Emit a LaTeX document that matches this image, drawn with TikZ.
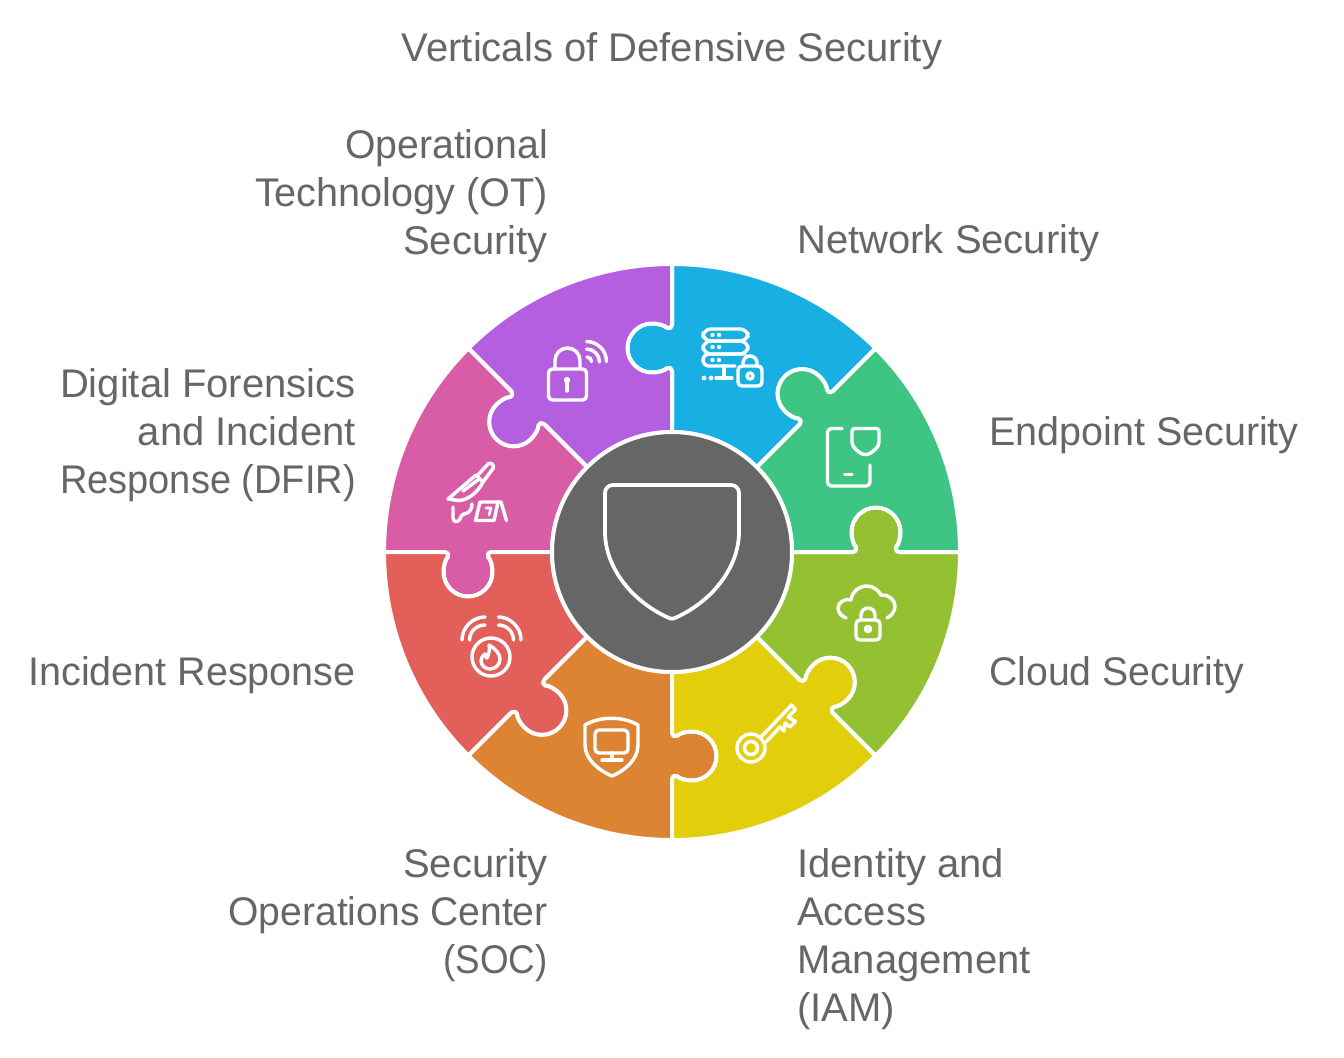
\documentclass[tikz,border=0pt]{standalone}
\usepackage{graphicx}
\usepackage{fontspec}
\setmainfont{Liberation Sans}
\definecolor{txtgray}{HTML}{666666}
\definecolor{hubgray}{HTML}{666666}
\definecolor{netblue}{HTML}{18B0E3}
\definecolor{endgreen}{HTML}{3EC584}
\definecolor{cloudlime}{HTML}{94C132}
\definecolor{iamyellow}{HTML}{E2CE0A}
\definecolor{socorange}{HTML}{DD8432}
\definecolor{irred}{HTML}{E35F5A}
\definecolor{dfirpink}{HTML}{D95DA6}
\definecolor{otpurple}{HTML}{B45FDF}
\tikzset{
  piece/.style={draw=white,line width=3pt,line join=round},
  iconline/.style={draw=white,line width=2.6pt,line cap=round,line join=round},
  lbl/.style={text=txtgray,font=\fontsize{30}{36}\selectfont,inner sep=0pt},
}
\newcommand{\squeeze}[2]{\scalebox{#1}[1]{#2}}
% one sector: notch on its first edge, tab on its second edge
\newcommand{\puzzlepiece}[2]{%
  \draw[piece,fill=#2,rotate=#1] (120,0) -- (181,0)
    .. controls (183.5,0) and (185,3) .. (184,4.5)
    .. controls (181,8) and (179.5,14) .. (179.5,20)
    arc[start angle=180,end angle=0,radius=24.5]
    .. controls (228.5,14) and (227,8) .. (224,4.5)
    .. controls (223,3) and (224.5,0) .. (227,0)
    -- (288,0) arc[start angle=0,end angle=45,radius=288]
    {[rotate=45] -- (227,0)
    .. controls (224.5,0) and (223,3) .. (224,4.5)
    .. controls (227,8) and (228.5,14) .. (228.5,20)
    arc[start angle=0,end angle=180,radius=24.5]
    .. controls (179.5,14) and (181,8) .. (184,4.5)
    .. controls (185,3) and (183.5,0) .. (181,0)
    -- (120,0)} arc[start angle=45,end angle=0,radius=120] -- cycle;
}
\begin{document}
\begin{tikzpicture}[x=0.75pt,y=-0.75pt]
  \useasboundingbox (0,0) rectangle (1344,1057);

  % Ring of pieces
  \begin{scope}[shift={(672,552)},y=0.75pt]
    \puzzlepiece{45}{netblue}
    \puzzlepiece{90}{otpurple}
    \puzzlepiece{135}{dfirpink}
    \puzzlepiece{180}{irred}
    \puzzlepiece{225}{socorange}
    \puzzlepiece{270}{iamyellow}
    \puzzlepiece{315}{cloudlime}
    \puzzlepiece{0}{endgreen}
  \end{scope}

  % Hub and its shield
  \draw[piece,fill=hubgray] (672,552) circle[radius=120];
  \draw[iconline,line width=2.8pt] (613,485) -- (731,485) .. controls (736,485) and (739,489) .. (739,493)
    -- (739,532) .. controls (739,565) and (715,600) .. (675,618)
    .. controls (673,619) and (671,619) .. (669,618)
    .. controls (629,600) and (605,565) .. (605,532) -- (605,493)
    .. controls (605,489) and (608,485) .. (613,485) -- cycle;

  % Network icon
  \draw[iconline,rounded corners=6] (703,329) rectangle (748,341);
  \draw[iconline,rounded corners=6] (703,341) rectangle (748,354);
  \draw[iconline] (745,354) -- (709,354) arc[start angle=270,end angle=90,radius=6] -- (735,366);
  \foreach \y in {335,347,360} {
    \fill[white] (712.5,\y) circle[radius=2.2];
    \fill[white] (719,\y) circle[radius=2.2];
  }
  \draw[iconline] (724,366) -- (724,378);
  \draw[iconline] (716,378) -- (732,378);
  \fill[white] (704,378) circle[radius=2.4];
  \fill[white] (711,378) circle[radius=2.4];
  \draw[iconline,rounded corners=3] (738,366) rectangle (762,386);
  \draw[iconline] (743,366) -- (743,363) arc[start angle=180,end angle=360,radius=7] -- (757,366);
  \draw[iconline] (750,376) circle[radius=3];

  % Endpoint icon
  \draw[iconline,rounded corners=3] (842,428.5) -- (827.5,428.5) -- (827.5,486) -- (870,486) -- (870,465);
  \draw[iconline] (844.5,474.5) -- (852,474.5);
  \draw[iconline,rounded corners=2] (852,428.5) -- (879,428.5) -- (879,440)
    .. controls (879,447) and (872,453) .. (865.5,455)
    .. controls (859,453) and (852,447) .. (852,440) -- cycle;

  % Cloud icon
  \draw[iconline] (846,618) .. controls (841,616) and (838,612) .. (838,608)
    .. controls (838,603) and (844,598) .. (851,600)
    .. controls (852,591) and (860,586) .. (867,586)
    .. controls (873,586) and (878,590) .. (881,595)
    .. controls (888,594) and (895,600) .. (895,606)
    .. controls (895,612) and (891,616) .. (887,618);
  \draw[iconline,rounded corners=3] (856,620) rectangle (880,640);
  \draw[iconline] (861,620) -- (861,615) arc[start angle=180,end angle=360,radius=7] -- (875,620);
  \draw[iconline] (868,629) circle[radius=2.5];

  % Key icon
  \draw[iconline] (751,748) circle[radius=14];
  \draw[iconline] (751,748) circle[radius=6.5];
  \draw[iconline] (761,737) -- (791.5,705) -- (795.5,709.5) -- (788,717) -- (795.5,721.5)
    -- (790,727) -- (785,723) -- (784,731) -- (780,727) -- (766,742);

  % Monitor shield icon
  \draw[iconline] (585,725) .. controls (600,716) and (623,716) .. (638,725) -- (638,745)
    .. controls (638,760) and (624,771) .. (612,776)
    .. controls (600,771) and (585,760) .. (585,745) -- cycle;
  \draw[iconline,rounded corners=3] (595,730) rectangle (628,753);
  \draw[iconline] (612,753) -- (612,760);
  \draw[iconline] (602,760) -- (622,760);

  % Alarm icon
  \draw[iconline] (491,657) circle[radius=19];
  \draw[iconline] (489,645) .. controls (496,649) and (500,654) .. (500,659)
    .. controls (500,665) and (495,669) .. (490,669)
    .. controls (485,669) and (481,665) .. (481,661)
    .. controls (481,658) and (483,655) .. (485,654)
    .. controls (485,656) and (486,657) .. (487,658)
    .. controls (489,654) and (490,649) .. (489,645);
  \draw[iconline] (462,640) .. controls (462,627) and (473,617) .. (485,617);
  \draw[iconline] (469.5,640) .. controls (469.5,632) and (476,625) .. (485,625);
  \draw[iconline] (498.5,617) .. controls (510,617) and (521,627) .. (521,640);
  \draw[iconline] (498.5,625) .. controls (507,625) and (513.5,632) .. (513.5,640);

  % Knife and marker icon
  \draw[iconline] (477,476) -- (488,464) .. controls (490,461.5) and (495,465) .. (493,468.5) -- (483,482);
  \draw[iconline] (448,499) -- (476,475) -- (483,482)
    .. controls (478,492) and (468,500.5) .. (458,500.5) -- cycle;
  \draw[iconline] (463,491) -- (479,479);
  \draw[iconline] (453,507) -- (453,518) .. controls (453,522) and (458,523) .. (460,519)
    .. controls (461,515) and (464,513) .. (467,513) .. controls (470,512) and (472,508) .. (472,504);
  \draw[iconline] (480,502) -- (498,502) -- (494,520.5) -- (475.5,520.5) -- cycle;
  \draw[iconline] (498,502) -- (501,502) -- (506.5,520.5);
  \draw[iconline,line width=2pt] (486,508) -- (491,508) -- (489,515);

  % Padlock icon
  \draw[iconline,rounded corners=3] (548.5,369) rectangle (586.5,400);
  \draw[iconline] (555,369) -- (555,360.5) arc[start angle=180,end angle=360,radius=12.5] -- (580,369);
  \fill[white] (567,380) circle[radius=3.2];
  \draw[iconline] (567,380) -- (567,391);
  \draw[iconline] (586.5,341.5) arc[start angle=270,end angle=360,radius=20];
  \draw[iconline] (586.5,349) arc[start angle=270,end angle=360,radius=13];
  \draw[iconline] (587,357) arc[start angle=270,end angle=360,radius=4.5];

  % Labels
  \node[lbl] (title) at (672,51) {Verticals of Defensive Security};
  \node[lbl,anchor=east,align=right] (otlabel) at (548,196) {\squeeze{0.98}{Operational}\\\squeeze{0.99}{Technology (OT)}\\Security};
  \node[lbl,anchor=west] (netlabel) at (797,243) {Network Security};
  \node[lbl,anchor=west] (endlabel) at (989,435) {\squeeze{0.987}{Endpoint Security}};
  \node[lbl,anchor=west] (cloudlabel) at (989,675) {\squeeze{0.98}{Cloud Security}};
  \node[lbl,anchor=west,align=left] (iamlabel) at (797,939) {Identity and\\Access\\Management\\(IAM)};
  \node[lbl,anchor=east,align=right] (soclabel) at (548,915) {Security\\\squeeze{0.977}{Operations Center}\\\squeeze{0.92}{(SOC)}};
  \node[lbl,anchor=east] (irlabel) at (356,675) {\squeeze{0.988}{Incident Response}};
  \node[lbl,anchor=east,align=right] (dfirlabel) at (356,435) {Digital Forensics\\and Incident\\\squeeze{0.95}{Response (DFIR)}};
\end{tikzpicture}
\end{document}
